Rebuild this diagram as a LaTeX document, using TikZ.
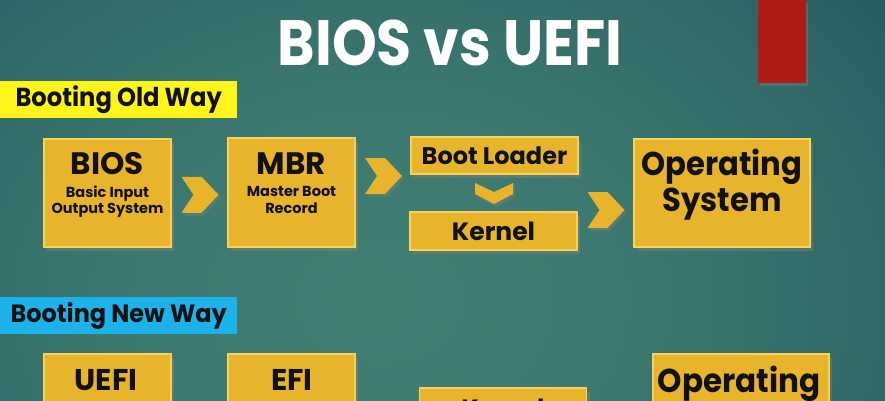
\documentclass[tikz,border=0pt]{standalone}
\usepackage{fontspec}
\setmainfont{Poppins}
\usetikzlibrary{shadows,calc}
\definecolor{gold}{HTML}{E8B42C}
\definecolor{goldedge}{HTML}{F6D45A}
\definecolor{oldlab}{HTML}{FFF51A}
\definecolor{newlab}{HTML}{1DB2EA}
\definecolor{redbar}{HTML}{B01A17}
\definecolor{ink}{HTML}{111111}
\definecolor{bgA}{HTML}{417F75}
\definecolor{bgB}{HTML}{3C786F}
\definecolor{bgC}{HTML}{2D6566}
\definecolor{bgD}{HTML}{1B4A55}
\definecolor{bgE}{HTML}{133E4D}
\definecolor{bgF}{HTML}{0D3243}
\pgfdeclareradialshading{bgshade}{\pgfpoint{0bp}{0bp}}{color(0bp)=(bgA); color(12bp)=(bgB); color(25bp)=(bgC); color(38bp)=(bgD); color(48bp)=(bgE); color(60bp)=(bgF); color(72bp)=(bgF)}
\tikzset{
  box/.style={draw=goldedge, line width=1.1pt, fill=gold, inner sep=0pt,
    drop shadow={shadow xshift=3pt, shadow yshift=-4pt, opacity=.45}},
  lab/.style={inner sep=0pt, minimum height=37pt, minimum width=237pt, anchor=west},
  txt/.style={inner sep=0pt, anchor=base, text=ink},
  chevR/.pic={\fill[gold, drop shadow={shadow xshift=2pt, shadow yshift=-3pt, opacity=.35}]
     (-18,-18) -- (2,-18) -- (19,0) -- (2,18) -- (-18,18) -- (-6,0) -- cycle;},
  chevD/.pic={\fill[gold, drop shadow={shadow xshift=2pt, shadow yshift=-3pt, opacity=.35}]
     (-19,-10) -- (0,-1) -- (19,-10) -- (19,1) -- (0,11) -- (-19,1) -- cycle;}
}
\newcommand{\fsz}[1]{\fontsize{#1}{#1}\selectfont\bfseries}
\begin{document}
\begin{tikzpicture}[x=1pt, y=-1pt]
\useasboundingbox (0,0) rectangle (885,400);
\begin{scope}
\clip (0,0) rectangle (885,400);
\shade[shading=bgshade] (-170,-120) rectangle (930,720);

% title and red bar
\node[inner sep=0pt, anchor=base, text=white, font=\fsz{64}] (title) at (450,65) {\scalebox{0.89}[1]{BIOS vs UEFI}};
\fill[redbar, drop shadow={shadow xshift=2pt, shadow yshift=-3pt, opacity=.4}] (758,0) rectangle (806,83);

% ---------- old way ----------
\node[lab, fill=oldlab, text=ink] (oldlab) at (0,99.5) {\scalebox{0.93}[1]{\fsz{26}Booting Old Way}};

\node[box, minimum width=127pt, minimum height=108pt] (bios) at (107.5,193) {};
\node[txt, font=\fsz{31}] (biosT) at (107.5,174) {BIOS};
\node[txt, font=\fsz{14.5}] (biosA) at (107.5,197) {Basic Input};
\node[txt, font=\fsz{14.5}] (biosB) at (107.5,213) {Output System};

\node[box, minimum width=127pt, minimum height=109pt] (mbr) at (291.5,192.5) {};
\node[txt, font=\fsz{31}] (mbrT) at (291.5,174) {MBR};
\node[txt, font=\fsz{14.5}] (mbrA) at (291.5,196) {Master Boot};
\node[txt, font=\fsz{14.5}] (mbrB) at (291.5,213) {Record};

\node[box, minimum width=167pt, minimum height=37pt, font=\fsz{24}, text=ink] (boot) at (494.5,155.5) {Boot Loader};
\node[box, minimum width=167pt, minimum height=38pt, font=\fsz{25}, text=ink] (kern) at (493.5,231) {Kernel};

\node[box, minimum width=176pt, minimum height=108pt] (os) at (722,193) {};
\node[txt, font=\fsz{33}] (osA) at (722,175) {\scalebox{0.93}[1]{Operating}};
\node[txt, font=\fsz{33}] (osB) at (722,211) {\scalebox{0.93}[1]{System}};

\pic at ($(bios.east)!0.5!(mbr.west)+(0,2)$) {chevR};
\pic at ($(mbr.east)!0.5!(boot.west)+(0,2)$) {chevR};
\pic at ($(boot.south)!0.5!(kern.north)$) {chevD};
\pic at ($(kern.east)!0.5!(os.west)+(0,-2)$) {chevR};

% ---------- new way ----------
\node[lab, fill=newlab, text=ink] (newlab) at (0,315.5) {\scalebox{0.96}[1]{\fsz{25}Booting New Way}};

\node[box, minimum width=127pt, minimum height=108pt] (uefi) at (107.5,408) {};
\node[txt, font=\fsz{30}] (uefiT) at (106,390) {UEFI};
\node[box, minimum width=127pt, minimum height=108pt] (efi) at (291.5,408) {};
\node[txt, font=\fsz{30}] (efiT) at (292,390) {EFI};
\node[box, minimum width=167pt, minimum height=38pt] (kern2) at (503,407) {};
\node[txt, font=\fsz{25}] (kern2T) at (503,417) {Kernel};
\node[box, minimum width=176pt, minimum height=108pt] (os2) at (741,408) {};
\node[txt, font=\fsz{33}] (os2T) at (739,392) {\scalebox{0.94}[1]{Operating}};

\pic at ($(uefi.east)!0.5!(efi.west)+(0,17)$) {chevR};
\pic at ($(efi.east)!0.5!(kern2.west)+(-2,18)$) {chevR};
\pic at ($(kern2.east)!0.5!(os2.west)+(0,17)$) {chevR};
\end{scope}
\end{tikzpicture}
\end{document}
